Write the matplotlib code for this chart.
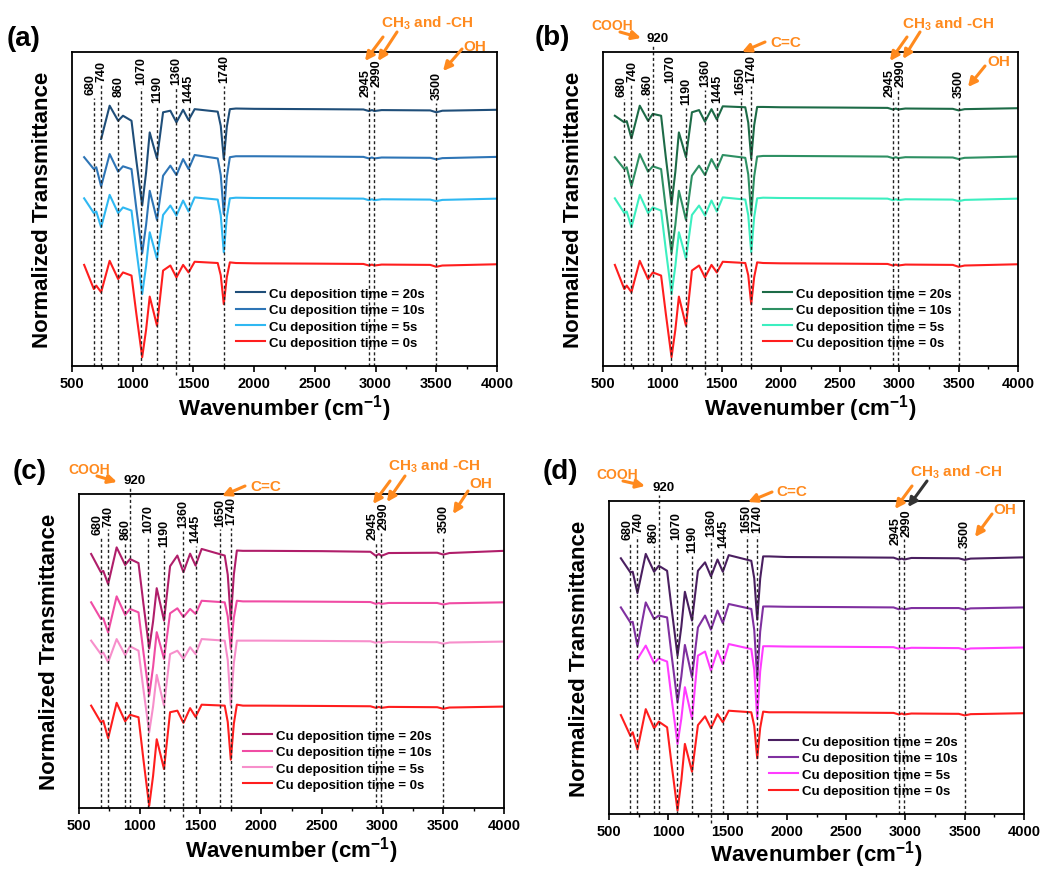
import numpy as np
import matplotlib
matplotlib.use('Agg')
import matplotlib.pyplot as plt
from matplotlib.patches import FancyArrowPatch
from matplotlib.ticker import MultipleLocator, AutoMinorLocator

plt.rcParams['font.family'] = ['Liberation Sans', 'DejaVu Sans']
plt.rcParams['font.weight'] = 'bold'
plt.rcParams['mathtext.default'] = 'regular'

W, H = 1055, 870
nan = np.nan

# ---------------- data ----------------
wavenumber = [600, 680, 700, 740, 810, 880, 920, 990,
              1030, 1078, 1110, 1140, 1170, 1200, 1250,
              1310, 1360, 1415, 1460, 1510,
              1700, 1725, 1750, 1775, 1800,
              1850, 2000, 2500, 2900, 2945, 2970, 2990, 3050, 3450, 3500, 3550, 4000]

a_20s = [nan, nan, nan, 72.3, 82.9, 78.1, 79.7, 78.1,
         65.4, 51.1, 61.6, 74.4, 70.2, 66.1, 80.8,
         81.3, 77.6, 81.6, 78.3, 81.8,
         81.0, 76.5, 65.9, 76.2, 81.8,
         82.0, 81.9, 81.8, 81.7, 81.2, 81.5, 81.2, 81.5, 81.4, 80.8, 81.3, 81.6]
a_10s = [66.5, 62.7, 63.3, 57.2, 67.5, 61.9, 63.6, 62.7,
         50.1, 35.9, 44.9, 55.8, 51.2, 46.5, 60.6,
         63.8, 60.8, 65.9, 62.7, 67.2,
         66.1, 60.8, 48.4, 60.2, 66.5,
         66.8, 66.8, 66.7, 66.6, 66.1, 66.4, 66.1, 66.4, 66.3, 65.8, 66.2, 66.6]
a_5s = [53.4, 48.7, 49.2, 44.2, 54.5, 48.7, 50.5, 49.5,
        37.0, 22.9, 31.8, 42.6, 38.4, 34.1, 48.1,
        51.1, 47.9, 52.7, 49.2, 53.7,
        53.0, 48.0, 36.2, 47.4, 53.4,
        53.6, 53.5, 53.4, 53.3, 52.8, 53.1, 52.8, 53.1, 53.0, 52.5, 52.9, 53.3]
a_0s = [32.2, 24.5, 25.6, 23.5, 33.5, 27.7, 29.8, 28.8,
        16.6, 2.8, 11.5, 22.1, 17.5, 12.8, 30.4,
        32.0, 28.2, 32.2, 29.8, 33.2,
        32.8, 28.9, 19.7, 28.3, 33.0,
        32.8, 32.7, 32.6, 32.5, 32.0, 32.3, 32.0, 32.3, 32.2, 31.6, 32.0, 32.4]

b_20s = [79.7, 77.6, 78.0, 72.5, 82.9, 78.1, 80.3, 79.7,
         66.4, 51.5, 61.8, 74.4, 70.5, 66.5, 80.8,
         81.5, 77.8, 81.8, 78.5, 82.7,
         82.4, 77.5, 66.0, 76.7, 82.5,
         82.5, 82.4, 82.3, 82.2, 81.7, 82.0, 81.7, 82.0, 81.9, 81.4, 81.8, 82.1]
b_10s = [66.5, 62.7, 63.3, 57.2, 67.5, 61.9, 63.6, 62.7,
         50.1, 35.9, 44.9, 55.8, 51.2, 46.5, 60.6,
         63.8, 60.8, 65.9, 62.7, 67.2,
         66.3, 61.0, 48.4, 60.4, 66.7,
         66.9, 66.9, 66.8, 66.7, 66.2, 66.5, 66.2, 66.5, 66.4, 65.9, 66.3, 66.7]
b_5s = [53.4, 48.7, 49.2, 44.2, 54.5, 48.7, 50.5, 49.5,
        37.0, 22.9, 31.8, 42.6, 38.4, 34.1, 48.1,
        51.1, 47.9, 52.7, 49.2, 53.7,
        53.0, 48.0, 36.2, 47.4, 53.4,
        53.6, 53.5, 53.4, 53.3, 52.8, 53.1, 52.8, 53.1, 53.0, 52.5, 52.9, 53.3]
b_0s = [32.2, 24.5, 25.6, 23.5, 33.5, 27.7, 29.8, 28.8,
        16.6, 2.8, 11.5, 22.1, 17.5, 12.8, 30.4,
        32.0, 28.2, 32.2, 29.8, 33.2,
        32.8, 28.9, 19.7, 28.3, 33.0,
        32.8, 32.7, 32.6, 32.5, 32.0, 32.3, 32.0, 32.3, 32.2, 31.6, 32.0, 32.4]

c_20s = [80.9, 75.1, 75.5, 71.3, 83.0, 77.4, 79.3, 78.0,
         65.2, 50.8, 59.4, 70.0, 64.9, 59.7, 77.0,
         80.4, 75.1, 81.0, 77.2, 82.5,
         80.4, 74.3, 60.0, 74.3, 82.0,
         81.9, 81.9, 81.8, 81.6, 80.3, 80.9, 80.3, 81.2, 81.3, 80.7, 81.2, 81.9]
c_10s = [65.5, 60.2, 60.4, 55.9, 67.4, 61.5, 63.4, 62.3,
         49.8, 35.8, 44.9, 56.0, 51.8, 47.5, 62.0,
         63.6, 60.8, 63.4, 61.8, 66.0,
         65.5, 61.0, 50.6, 60.6, 66.0,
         65.8, 65.8, 65.7, 65.6, 65.0, 65.3, 65.0, 65.3, 65.3, 64.8, 65.2, 65.5]
c_5s = [53.3, 49.0, 49.5, 46.4, 53.8, 48.7, 51.5, 50.1,
        37.9, 24.1, 32.3, 42.4, 37.5, 32.6, 49.0,
        50.1, 47.5, 51.2, 49.0, 53.8,
        53.3, 47.1, 32.6, 46.1, 53.3,
        53.3, 53.3, 53.2, 53.1, 52.6, 52.9, 52.6, 52.9, 52.8, 52.3, 52.7, 53.0]
c_0s = [32.6, 27.3, 27.8, 22.2, 33.5, 27.6, 29.7, 28.9,
        15.6, 0.7, 10.2, 21.9, 17.2, 12.4, 30.5,
        31.0, 27.1, 31.8, 29.0, 32.9,
        32.6, 27.4, 15.4, 26.8, 32.9,
        32.6, 32.6, 32.5, 32.4, 31.9, 32.2, 31.9, 32.2, 32.1, 31.6, 32.0, 32.3]

d_20s = [81.7, 77.2, 77.4, 70.6, 83.1, 77.4, 79.3, 77.7,
         65.0, 50.6, 59.8, 71.0, 66.4, 61.8, 77.7,
         80.4, 75.9, 81.3, 77.4, 82.7,
         80.9, 75.3, 62.1, 75.2, 82.3,
         82.3, 82.1, 82.0, 81.9, 81.3, 81.6, 81.3, 81.8, 81.7, 81.2, 81.6, 82.0]
d_10s = [66.0, 61.2, 61.4, 53.6, 67.6, 62.3, 63.4, 62.8,
         50.1, 35.7, 43.9, 54.0, 48.9, 43.7, 59.6,
         63.4, 58.9, 65.0, 61.0, 67.1,
         65.5, 58.8, 43.3, 58.3, 66.3,
         66.3, 66.2, 66.1, 66.0, 65.4, 65.7, 65.4, 65.8, 65.8, 65.3, 65.7, 66.0]
d_5s = [nan, nan, nan, 49.5, 53.8, 48.2, 49.7, 48.7,
        36.3, 22.4, 30.5, 40.5, 35.5, 30.4, 50.6,
        51.9, 45.8, 52.2, 47.9, 54.3,
        52.7, 46.1, 30.6, 45.6, 53.6,
        53.6, 53.5, 53.4, 53.3, 52.8, 53.1, 52.8, 53.1, 53.0, 52.5, 52.9, 53.2]
d_0s = [31.6, 25.0, 26.1, 20.6, 33.5, 27.4, 29.5, 27.7,
        15.2, 1.1, 10.7, 22.4, 18.0, 13.5, 28.4,
        31.2, 27.4, 31.9, 29.3, 33.0,
        32.5, 28.1, 17.8, 27.5, 32.7,
        32.5, 32.5, 32.4, 32.3, 31.8, 32.1, 31.8, 32.1, 32.0, 31.5, 31.9, 32.2]

legend_labels = ['Cu deposition time = 20s', 'Cu deposition time = 10s',
                 'Cu deposition time = 5s', 'Cu deposition time = 0s']

peak_pos_a = [680, 740, 880, 1070, 1200, 1360, 1460, 1750, 2945, 2990, 3500]
peak_txt_a = ['680', '740', '860', '1070', '1190', '1360', '1445', '1740', '2945', '2990', '3500']
peak_pos_bcd = [680, 740, 880, 1070, 1200, 1360, 1460, 1660, 1750, 2945, 2990, 3500]
peak_txt_bcd = ['680', '740', '860', '1070', '1190', '1360', '1445', '1650', '1740', '2945', '2990', '3500']

# ---------------- style ----------------
ORANGE = '#FF8A1E'
panels = [
    dict(rect=(72, 53, 497, 367), series=[a_20s, a_10s, a_5s, a_0s],
         colors=['#1F4E79', '#2E75B6', '#2FB8F2', '#FF1E1E'],
         pos=peak_pos_a, txt=peak_txt_a,
         lab=[0.866, 0.908, 0.860, 0.898, 0.841, 0.898, 0.841, 0.904, 0.860, 0.892, 0.850],
         has920=False, xpad=2),
    dict(rect=(603, 53, 1018, 367), series=[b_20s, b_10s, b_5s, b_0s],
         colors=['#1D6B47', '#2E9063', '#3CEFC0', '#FF1E1E'],
         pos=peak_pos_bcd, txt=peak_txt_bcd,
         lab=[0.861, 0.909, 0.866, 0.904, 0.834, 0.892, 0.841, 0.866, 0.904, 0.861, 0.892, 0.856],
         has920=True, xpad=2),
    dict(rect=(79, 495, 504, 809), series=[c_20s, c_10s, c_5s, c_0s],
         colors=['#B01E6A', '#F04CA4', '#F78FCB', '#FF1E1E'],
         pos=peak_pos_bcd, txt=peak_txt_bcd,
         lab=[0.873, 0.899, 0.857, 0.878, 0.835, 0.894, 0.846, 0.899, 0.904, 0.857, 0.889, 0.878],
         has920=True, xpad=2),
    dict(rect=(609, 502, 1024, 815), series=[d_20s, d_10s, d_5s, d_0s],
         colors=['#4A1F60', '#8030A0', '#FF3CFF', '#FF1E1E'],
         pos=peak_pos_bcd, txt=peak_txt_bcd,
         lab=[0.879, 0.900, 0.868, 0.879, 0.836, 0.889, 0.852, 0.900, 0.900, 0.863, 0.889, 0.852],
         has920=True, xpad=0),
]

label_shift = {'680': -25, '740': 5, '2945': -28, '2990': 22}


def fx(x, y):
    return (x / W, 1 - y / H)


fig = plt.figure(figsize=(W / 100, H / 100), dpi=100)

for p in panels:
    l, t, r, b = p['rect']
    ax = fig.add_axes([l / W, 1 - b / H, (r - l) / W, (b - t) / H])
    for ys, c, lab in zip(p['series'], p['colors'], legend_labels):
        ax.plot(wavenumber, ys, color=c, lw=1.5, label=lab, solid_joinstyle='round')
    ax.set_xlim(500, 4000)
    ax.set_ylim(0, 100)
    ax.set_yticks([])
    ax.xaxis.set_major_locator(MultipleLocator(500))
    ax.xaxis.set_minor_locator(AutoMinorLocator(2))
    ax.tick_params(axis='x', which='major', direction='out', length=4, width=1.2,
                   labelsize=10.5, pad=3)
    ax.tick_params(axis='x', which='minor', direction='out', length=2.5, width=1.0)
    for lbl in ax.get_xticklabels():
        lbl.set_fontweight('bold')
    for s in ax.spines.values():
        s.set_linewidth(1.3)
    ax.set_xlabel('Wavenumber (cm$^{-1}$)', fontsize=16, fontweight='bold', labelpad=p['xpad'])
    ax.set_ylabel('Normalized Transmittance', fontsize=16, fontweight='bold', labelpad=14)

    trans = ax.get_xaxis_transform()
    for pos, txt, yl in zip(p['pos'], p['txt'], p['lab']):
        xt = pos + label_shift.get(txt, 0)
        ymin = -0.03 if txt == '1360' else 0.0
        ax.plot([pos, pos], [ymin, yl - 0.012], transform=trans, color='#222222',
                lw=1.0, ls=(0, (2.2, 1.8)), clip_on=False)
        ax.text(xt, yl, txt, transform=trans, rotation=90, ha='center', va='bottom',
                fontsize=9, fontweight='bold')
    if p['has920']:
        ax.plot([920, 920], [0, 1.02], transform=trans, color='#222222',
                lw=1.0, ls=(0, (2.2, 1.8)), clip_on=False)
        ax.text(920 + 40, 1.025, '920', transform=trans, ha='center', va='bottom',
                fontsize=9.5, fontweight='bold')

    leg = ax.legend(loc='upper left', bbox_to_anchor=(0.386, 0.25), frameon=False,
                    fontsize=9.5, handlelength=2.2, handletextpad=0.3,
                    labelspacing=0.32, borderpad=0, borderaxespad=0)
    for tx in leg.get_texts():
        tx.set_fontweight('bold')

# ---------------- panel letters and annotations ----------------
letters = [('(a)', 7, 39), ('(b)', 535, 38), ('(c)', 13, 472), ('(d)', 543, 472)]
for s, x, y in letters:
    fig.text(*fx(x, y), s, fontsize=20, fontweight='bold', ha='left', va='center')


def otext(s, x, y, size=11):
    fig.text(*fx(x, y), s, fontsize=size, fontweight='bold', color=ORANGE,
             ha='center', va='center')


def arrow(x0, y0, x1, y1, color=ORANGE):
    fig.add_artist(FancyArrowPatch(
        fx(x0, y0), fx(x1, y1), transform=fig.transFigure, arrowstyle='-|>',
        mutation_scale=13, color=color, lw=2.2, shrinkA=0, shrinkB=0))


# (a)
otext('CH$_3$ and -CH', 427, 23)
arrow(383, 38, 365, 62)
arrow(397, 33, 378, 62)
otext('OH', 475, 47)
arrow(462, 50, 443, 72)
# (b)
otext('COOH', 612, 26, 10)
arrow(620, 33, 641, 39)
otext('C=C', 786, 43)
arrow(765, 43, 742, 53)
otext('CH$_3$ and -CH', 948, 24)
arrow(907, 38, 890, 62)
arrow(920, 33, 903, 60)
otext('OH', 999, 62)
arrow(985, 67, 968, 88)
# (c)
otext('COOH', 89, 470, 10)
arrow(97, 477, 117, 483)
otext('C=C', 266, 487)
arrow(245, 487, 222, 497)
otext('CH$_3$ and -CH', 434, 466)
arrow(390, 482, 373, 505)
arrow(405, 477, 387, 503)
otext('OH', 481, 484)
arrow(468, 492, 453, 515)
# (d)
otext('COOH', 617, 475, 10)
arrow(623, 482, 645, 487)
otext('C=C', 792, 492)
arrow(772, 493, 748, 503)
otext('CH$_3$ and -CH', 956, 472)
arrow(912, 487, 895, 510)
arrow(927, 482, 908, 508, color='#333333')
otext('OH', 1005, 510)
arrow(992, 515, 975, 538)

fig.savefig('out.png', dpi=100)
